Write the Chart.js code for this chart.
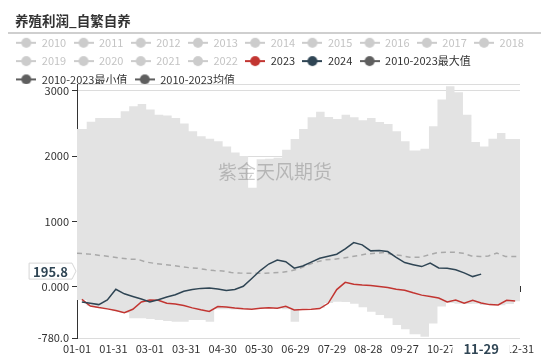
<!DOCTYPE html>
<html>
<head>
<meta charset="utf-8">
<script src="https://cdn.jsdelivr.net/npm/chart.js@4/dist/chart.umd.min.js"></script>
<style>
    html, body { margin: 0; padding: 0; background: #fff; }
    #wrap { position: relative; width: 550px; height: 359px; overflow: hidden; }
    #title {
        position: absolute; left: 15px; top: 10px; z-index: 2;
        font: bold 13.5px "Noto Sans CJK SC", sans-serif; color: #333;
    }
    #rule { position: absolute; left: 8px; top: 32px; width: 533px; height: 2px; background: #cfcfcf; z-index: 2; }
    #chart { position: absolute; left: 0; top: 0; }
</style>
</head>
<body>
<div id="wrap">
    <div id="title">养殖利润_自繁自养</div>
    <div id="rule"></div>
    <canvas id="chart" width="550" height="359"></canvas>
</div>
<script>
// Categories: every day of the (leap) year, MM-DD
const monthDays = [31, 29, 31, 30, 31, 30, 31, 31, 30, 31, 30, 31];
const dayLabels = [];
monthDays.forEach((n, m) => {
    for (let d = 1; d <= n; d++) {
        dayLabels.push(String(m + 1).padStart(2, '0') + '-' + String(d).padStart(2, '0'));
    }
});

// Dates of the band / mean points (weekly steps)
const bandDates = ['01-01', '01-09', '01-16', '01-23', '01-30', '02-06', '02-13', '02-20', '02-27',
    '03-05', '03-12', '03-19', '03-26', '04-02', '04-09', '04-16', '04-23', '04-30',
    '05-07', '05-14', '05-21', '05-28', '06-04', '06-11', '06-18', '06-25',
    '07-02', '07-09', '07-16', '07-23', '07-30', '08-06', '08-13', '08-20', '08-27',
    '09-03', '09-10', '09-17', '09-24', '10-01', '10-10', '10-17', '10-24', '10-31',
    '11-07', '11-14', '11-21', '11-28', '12-05', '12-12', '12-19', '12-26', '12-31'];

const maxValues = [2413, 2525, 2582, 2582, 2582, 2683, 2760, 2796, 2709,
    2632, 2617, 2582, 2495, 2377, 2300, 2265, 2224, 2147,
    2055, 2000, 1515, 1950, 1960, 1974, 2097, 2260,
    2413, 2591, 2678, 2597, 2566, 2632, 2591, 2545, 2582,
    2520, 2490, 2377, 2224, 2086, 2112, 2453, 2862, 3065,
    2974, 2632, 2214, 2147, 2265, 2352, 2260, 2260, 2260];

const minValues = [-199, -290, -320, -340, -370, -400, -480, -480, -490,
    -505, -520, -530, -530, -505, -505, -530, -340, -340,
    -345, -340, -335, -330, -320, -330, -340, -530,
    -330, -320, -320, -245, -225, -230, -255, -311, -378,
    -428, -480, -582, -648, -724, -760, -560, -300, -245,
    -255, -260, -255, -275, -280, -280, -260, -220, -220];

const meanValues = [516, 505, 490, 475, 460, 440, 425, 423, 380,
    360, 345, 330, 312, 295, 286, 265, 250, 245,
    220, 212, 209, 209, 209, 215, 225, 245,
    280, 335, 380, 413, 420, 439, 458, 480, 505,
    515, 525, 494, 480, 454, 454, 490, 525, 531,
    531, 516, 474, 464, 474, 516, 464, 464, 464];

// Weekly (Friday) dates of the yearly series
const weekDates = ['01-05', '01-12', '01-19', '01-26', '02-02', '02-09', '02-16', '02-23',
    '03-01', '03-08', '03-15', '03-22', '03-29', '04-05', '04-12', '04-19', '04-26',
    '05-03', '05-10', '05-17', '05-24', '05-31', '06-07', '06-14', '06-21', '06-28',
    '07-05', '07-12', '07-19', '07-26', '08-02', '08-09', '08-16', '08-23', '08-30',
    '09-06', '09-13', '09-20', '09-27', '10-04', '10-11', '10-18', '10-25',
    '11-01', '11-08', '11-15', '11-22', '11-29', '12-06', '12-13', '12-20', '12-27'];

const values2023 = [-189, -291, -315, -335, -360, -393, -341, -230, -200, -205, -250, -260,
    -285, -320, -350, -375, -300, -305, -320, -332, -341, -325, -318, -326, -295, -352,
    -345, -340, -330, -250, -40, 70, 40, 28, 22, 8, -10, -35, -50, -90, -125, -145,
    -170, -230, -200, -250, -205, -245, -270, -275, -205, -214];

const values2024 = [-230, -250, -270, -200, -35, -105, -145, -185, -228, -195, -155, -120,
    -65, -40, -22, -18, -30, -55, -40, 10, 130, 250, 350, 410, 385, 286,
    320, 380, 439, 470, 500, 580, 678, 643, 551, 556, 540, 450, 372, 340, 311, 365,
    290, 286, 262, 215, 158, 195.8];

// Axis ticks
const yTicks = [-780, 0, 1000, 2000, 3000, 3100];
const yTickLabels = ['-780.0', '0.000', '1000', '2000', '3000', ''];
const labelStep = 30;
const pointerDate = '11-29';
const pointerValue = 195.8;

// Legend
const legendNames = ['2010', '2011', '2012', '2013', '2014', '2015', '2016', '2017', '2018',
    '2019', '2020', '2021', '2022', '2023', '2024',
    '2010-2023最大值', '2010-2023最小值', '2010-2023均值'];
const legendActive = ['2023', '2024', '2010-2023最大值', '2010-2023最小值', '2010-2023均值'];
const seriesColors = { '2023': '#c23531', '2024': '#2f4554' };

const FONT = '"Noto Sans CJK SC", "Noto Sans", sans-serif';

function toPoints(dates, values) {
    return values.map((v, i) => ({ x: dates[i], y: v }));
}

function legendMarker(color) {
    const c = document.createElement('canvas');
    c.width = 20;
    c.height = 12;
    const g = c.getContext('2d');
    g.strokeStyle = color;
    g.lineWidth = 2;
    g.beginPath();
    g.moveTo(0, 6);
    g.lineTo(20, 6);
    g.stroke();
    g.fillStyle = color;
    g.beginPath();
    g.arc(10, 6, 5, 0, Math.PI * 2);
    g.fill();
    return c;
}

function keepTick(v) {
    return (v % labelStep === 0 && v <= 330) || v === dayLabels.length - 1;
}

// legend box should not push the plot down as far as Chart.js wants
const legendFit = {
    id: 'legendFit',
    afterInit(chart) {
        const fit = chart.legend.fit;
        chart.legend.fit = function () {
            fit.call(this);
            this.height = 54;
        };
    }
};

const watermark = {
    id: 'watermark',
    afterDatasetsDraw(chart) {
        const { ctx, chartArea } = chart;
        ctx.save();
        ctx.font = '19px ' + FONT;
        ctx.fillStyle = 'rgba(0,0,0,0.2)';
        ctx.textAlign = 'center';
        ctx.textBaseline = 'middle';
        ctx.fillText('紫金天风期货', chart.width / 2, chartArea.top + (chartArea.bottom - chartArea.top) * 0.347);
        ctx.restore();
    }
};

const pointerLabels = {
    id: 'pointerLabels',
    afterDraw(chart) {
        const { ctx } = chart;
        const x = chart.scales.x;
        const y = chart.scales.y;
        const px = x.getPixelForValue(dayLabels.indexOf(pointerDate));
        const py = y.getPixelForValue(pointerValue) - 3;
        ctx.save();
        ctx.font = 'bold 13px ' + FONT;
        ctx.textAlign = 'center';
        ctx.textBaseline = 'middle';

        // x axis pointer label
        let w = ctx.measureText(pointerDate).width + 22;
        ctx.fillStyle = '#fff';
        ctx.fillRect(px - w / 2, x.top + 2, w, 18);
        ctx.fillStyle = '#2f4554';
        ctx.fillText(pointerDate, px, x.top + 11);

        // y axis pointer label
        const text = pointerValue.toFixed(1);
        w = ctx.measureText(text).width + 8;
        const right = y.right - 5;
        const left = right - w;
        const h = 16;
        ctx.beginPath();
        ctx.moveTo(left, py - h / 2);
        ctx.lineTo(right, py - h / 2);
        ctx.lineTo(right + 4, py);
        ctx.lineTo(right, py + h / 2);
        ctx.lineTo(left, py + h / 2);
        ctx.closePath();
        ctx.fillStyle = '#fff';
        ctx.fill();
        ctx.strokeStyle = '#d6d6d6';
        ctx.lineWidth = 1;
        ctx.stroke();
        ctx.fillStyle = '#2f4554';
        ctx.fillText(text, (left + right) / 2, py + 0.5);
        ctx.restore();
    }
};

new Chart(document.getElementById('chart'), {
    type: 'line',
    data: {
        labels: dayLabels,
        datasets: [
            {
                label: '2024',
                data: toPoints(weekDates, values2024),
                borderColor: seriesColors['2024'],
                borderWidth: 1.5,
                pointRadius: 0,
                tension: 0,
                fill: false
            },
            {
                label: '2023',
                data: toPoints(weekDates, values2023),
                borderColor: seriesColors['2023'],
                borderWidth: 1.5,
                pointRadius: 0,
                tension: 0,
                fill: false
            },
            {
                label: '2010-2023均值',
                data: toPoints(bandDates, meanValues),
                borderColor: '#a9a9a9',
                borderWidth: 1.5,
                borderDash: [5, 4],
                pointRadius: 0,
                tension: 0,
                fill: false
            },
            {
                label: '2010-2023最大值',
                data: toPoints(bandDates, maxValues),
                borderWidth: 0,
                borderColor: 'rgba(0,0,0,0)',
                backgroundColor: '#e3e3e3',
                pointRadius: 0,
                stepped: true,
                fill: '+1'
            },
            {
                label: '2010-2023最小值',
                data: toPoints(bandDates, minValues),
                borderWidth: 0,
                borderColor: 'rgba(0,0,0,0)',
                pointRadius: 0,
                stepped: true,
                fill: false
            }
        ]
    },
    options: {
        responsive: false,
        animation: false,
        devicePixelRatio: 1,
        layout: { padding: { top: 30, left: 9, right: 0, bottom: 0 } },
        plugins: {
            tooltip: { enabled: false },
            legend: {
                position: 'top',
                align: 'start',
                onClick: null,
                labels: {
                    usePointStyle: true,
                    pointStyleWidth: 20,
                    boxHeight: 11,
                    padding: 7.3,
                    font: { size: 11, family: FONT },
                    generateLabels: () => legendNames.map(name => {
                        const on = legendActive.includes(name);
                        const color = on ? (seriesColors[name] || '#5f5f5f') : '#cccccc';
                        return {
                            text: name,
                            fontColor: on ? '#333' : '#c4c4c4',
                            fillStyle: color,
                            strokeStyle: color,
                            lineWidth: 0,
                            hidden: false,
                            pointStyle: legendMarker(color)
                        };
                    })
                }
            }
        },
        scales: {
            x: {
                type: 'category',
                position: 'bottom',
                grid: { display: false, drawTicks: false },
                border: { display: false },
                ticks: {
                    autoSkip: false,
                    maxRotation: 0,
                    padding: 4,
                    color: '#333',
                    font: { size: 11, family: FONT }
                },
                afterBuildTicks: axis => { axis.ticks = axis.ticks.filter(t => keepTick(t.value)); },
                afterFit: axis => { axis.height = 21; }
            },
            x0: {
                type: 'category',
                axis: 'x',
                position: { y: 0 },
                z: 1,
                ticks: { display: false, autoSkip: false },
                grid: { drawOnChartArea: false, drawTicks: true, tickLength: 5, color: '#333', tickColor: '#333' },
                border: { display: true, color: '#333', width: 1 },
                afterBuildTicks: axis => { axis.ticks = axis.ticks.filter(t => keepTick(t.value)); }
            },
            y: {
                type: 'linear',
                min: -780,
                max: 3100,
                z: 1,
                afterBuildTicks: axis => { axis.ticks = yTicks.map(v => ({ value: v })); },
                afterFit: axis => { axis.width = 68; },
                ticks: {
                    padding: 3,
                    color: '#333',
                    font: { size: 11, family: FONT },
                    callback: v => yTickLabels[yTicks.indexOf(v)]
                },
                grid: {
                    tickLength: 5,
                    color: ctx => (ctx.tick && ctx.tick.value === 0) ? 'rgba(0,0,0,0)' : '#dcdcdc',
                    tickColor: ctx => (ctx.tick && ctx.tick.value === 3100) ? 'rgba(0,0,0,0)' : '#333'
                },
                border: { color: '#333', width: 1 }
            },
            yR: {
                type: 'linear',
                position: 'right',
                ticks: { display: false },
                grid: { display: false },
                border: { display: false },
                afterFit: axis => { axis.width = 30; }
            }
        }
    },
    plugins: [legendFit, watermark, pointerLabels]
});
</script>
</body>
</html>
